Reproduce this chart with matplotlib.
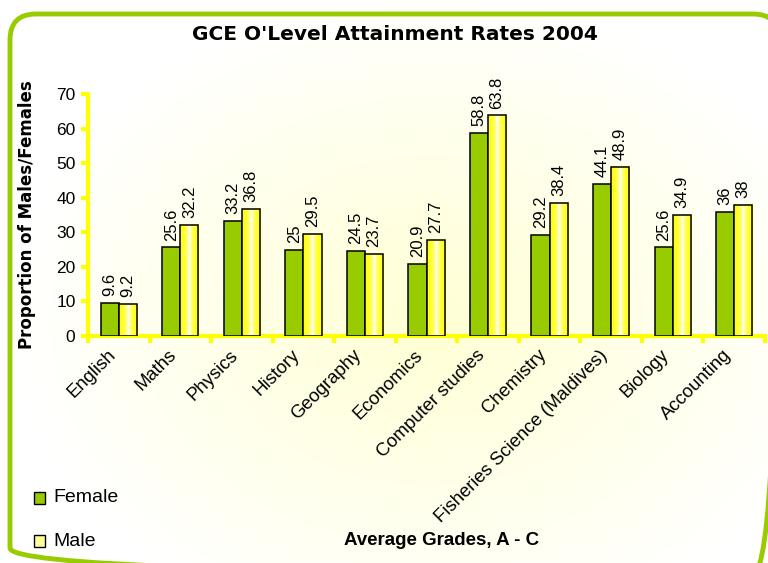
import numpy as np
import matplotlib
matplotlib.use('Agg')
import matplotlib.pyplot as plt
from matplotlib.patches import FancyBboxPatch, Rectangle
from matplotlib.colors import LinearSegmentedColormap
from matplotlib.transforms import ScaledTranslation

# data
subjects = ['English', 'Maths', 'Physics', 'History', 'Geography', 'Economics',
            'Computer studies', 'Chemistry', 'Fisheries Science (Maldives)',
            'Biology', 'Accounting']
female = [9.6, 25.6, 33.2, 25, 24.5, 20.9, 58.8, 29.2, 44.1, 25.6, 36]
male = [9.2, 32.2, 36.8, 29.5, 23.7, 27.7, 63.8, 38.4, 48.9, 34.9, 38]
yticks = [0, 10, 20, 30, 40, 50, 60, 70]

green = '#99CC00'
yellow = '#FFFF00'
font = 'Liberation Sans'

fig = plt.figure(figsize=(7.68, 5.63), dpi=100)

# radial background + rounded frame (runs off the right/bottom edge)
bg = fig.add_axes([0, 0, 1, 1])
bg.set_xlim(0, 768)
bg.set_ylim(563, 0)
bg.axis('off')
xx, yy = np.meshgrid(np.arange(768), np.arange(563))
r = np.sqrt((xx - 430) ** 2 + ((yy - 320) * 1.3) ** 2) / 420
r = np.clip(r, 0, 1)
bgcmap = LinearSegmentedColormap.from_list('bg', ['#FFFFD4', '#FFFFFF'])
bg.imshow(r, cmap=bgcmap, extent=(0, 768, 563, 0), aspect='auto', zorder=0)
frame = FancyBboxPatch((10, 14), 769, 560, boxstyle='round,pad=0,rounding_size=26',
                       fill=False, edgecolor=green, linewidth=3.5, zorder=1)
bg.add_patch(frame)

bg.text(395, 34, "GCE O'Level Attainment Rates 2004", ha='center', va='center',
        fontsize=14.5, fontweight='bold', fontfamily='DejaVu Sans')
bg.text(442, 545, 'Average Grades, A - C', ha='center', va='baseline',
        fontsize=13.5, fontweight='bold', fontfamily=font)
bg.text(27, 215, 'Proportion of Males/Females', ha='center', va='center', rotation=90,
        fontsize=12, fontweight='bold', fontfamily='DejaVu Sans')

# legend
bg.add_patch(Rectangle((34, 492), 11, 12, facecolor=green, edgecolor='black', lw=1))
bg.text(53, 498, 'Female', va='center', fontsize=14, fontfamily=font)
bg.add_patch(Rectangle((34, 535), 11, 12, facecolor='#FFFF99', edgecolor='black', lw=1))
bg.text(53, 541, 'Male', va='center', fontsize=14, fontfamily=font)

ax = fig.add_axes([88 / 768, (563 - 336) / 563, 677 / 768, 242 / 563])
ax.patch.set_alpha(0)
x = np.arange(len(subjects))
w = 0.295
fb = ax.bar(x - w / 2, female, w, color=green, edgecolor='black', linewidth=1.1, zorder=3)
mb = ax.bar(x + w / 2, male, w, color='none', edgecolor='black', linewidth=1.1, zorder=4)

# yellow-white-yellow fill of the male bars
grad = np.abs(np.linspace(-1, 1, 64))[None, :] ** 0.6
gcmap = LinearSegmentedColormap.from_list('g', ['#FFFFFF', '#FFFF50', yellow])
for b in mb:
    x0, y0 = b.get_x(), b.get_y()
    ax.imshow(grad, cmap=gcmap, extent=(x0, x0 + b.get_width(), y0, y0 + b.get_height()),
              aspect='auto', zorder=3, interpolation='bilinear')

for b, v in zip(list(fb) + list(mb), female + male):
    ax.text(b.get_x() + b.get_width() / 2, b.get_height() + 2.0, f'{v:g}', rotation=90,
            ha='center', va='bottom', fontsize=12, fontfamily=font)

ax.set_xlim(-0.5, len(subjects) - 0.5)
ax.set_ylim(0, 70)
ax.set_yticks(yticks)
ax.set_yticklabels([str(t) for t in yticks], fontsize=12.5, fontfamily=font)
ax.set_xticks(x)
ax.set_xticklabels(subjects, rotation=45, ha='right', va='center', rotation_mode='anchor',
                   fontsize=13.3, fontfamily=font)
ax.tick_params(axis='x', length=0, pad=12)
shift = ScaledTranslation(-6 / 100, 0, fig.dpi_scale_trans)
for lab in ax.get_xticklabels():
    lab.set_transform(lab.get_transform() + shift)
ax.set_xticks(np.arange(-0.5, len(subjects)), minor=True)
ax.tick_params(axis='x', which='minor', length=5, width=3, color=yellow)
ax.tick_params(axis='y', length=5, width=3, color=yellow, pad=4)
for s in ['top', 'right']:
    ax.spines[s].set_visible(False)
for s in ['left', 'bottom']:
    ax.spines[s].set_color(yellow)
    ax.spines[s].set_linewidth(3)

fig.savefig('out.png', dpi=100)
